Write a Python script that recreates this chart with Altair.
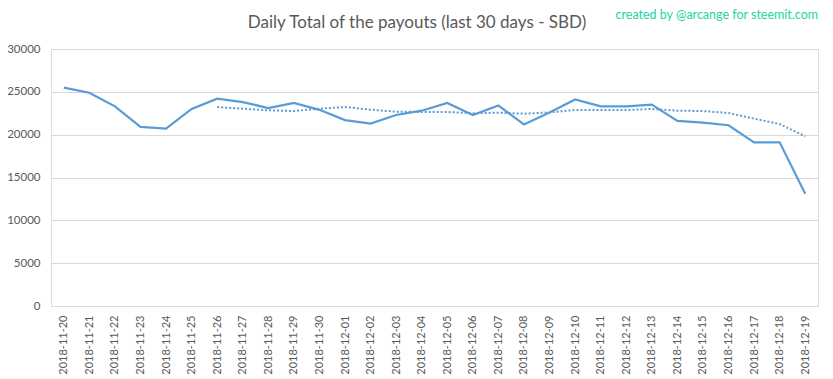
import altair as alt
import pandas as pd

dates = ["2018-11-20", "2018-11-21", "2018-11-22", "2018-11-23", "2018-11-24",
         "2018-11-25", "2018-11-26", "2018-11-27", "2018-11-28", "2018-11-29",
         "2018-11-30", "2018-12-01", "2018-12-02", "2018-12-03", "2018-12-04",
         "2018-12-05", "2018-12-06", "2018-12-07", "2018-12-08", "2018-12-09",
         "2018-12-10", "2018-12-11", "2018-12-12", "2018-12-13", "2018-12-14",
         "2018-12-15", "2018-12-16", "2018-12-17", "2018-12-18", "2018-12-19"]

payouts = [25500, 24900, 23300, 20900, 20700, 23000, 24200, 23800, 23100, 23700,
           22900, 21700, 21300, 22300, 22800, 23700, 22300, 23400, 21200, 22600,
           24100, 23300, 23300, 23500, 21600, 21400, 21100, 19100, 19100, 13100]

avg_dates = dates[6:]
avg_values = [23230, 23030, 22840, 22760, 23030, 23230, 22920, 22680, 22650, 22650,
              22500, 22570, 22450, 22600, 22880, 22880, 22880, 23000, 22800, 22760,
              22530, 21870, 21240, 19800]

y_ticks = [0, 5000, 10000, 15000, 20000, 25000, 30000]

title_text = "Daily Total of the payouts (last 30 days - SBD)"
credit_text = "created by @arcange for steemit.com"

df = pd.DataFrame({"date": dates, "value": payouts})
df_avg = pd.DataFrame({"date": avg_dates, "value": avg_values})

FONT = "Lato"
TEXT = "#595959"
BLUE = "#5B9BD5"

x_enc = alt.X("date:N", sort=dates, title=None,
              scale=alt.Scale(domain=dates, paddingInner=0, paddingOuter=0.5),
              axis=alt.Axis(labelAngle=-90, labelFont=FONT, labelFontSize=11,
                            labelColor=TEXT, ticks=False, domainColor="#D9D9D9",
                            labelPadding=9, grid=False))
y_enc = alt.Y("value:Q", title=None,
              scale=alt.Scale(domain=[0, 30000], nice=False),
              axis=alt.Axis(values=y_ticks, labelFont=FONT, labelFontSize=11.5,
                            labelColor=TEXT, ticks=False, domain=False,
                            gridColor="#D9D9D9", labelPadding=11, format="d"))

line = alt.Chart(df).mark_line(color=BLUE, strokeWidth=2.2).encode(x=x_enc, y=y_enc)
avg = alt.Chart(df_avg).mark_line(color=BLUE, strokeWidth=2, strokeDash=[2, 2]).encode(
    x=alt.X("date:N", sort=dates), y="value:Q")

credit = alt.Chart(pd.DataFrame({"t": [credit_text]})).mark_text(
    align="right", baseline="middle", font=FONT, fontSize=12.5, color="#24D3A5"
).encode(x=alt.value(767), y=alt.value(-34), text="t:N")

title = alt.Chart(pd.DataFrame({"t": [title_text]})).mark_text(
    align="center", baseline="middle", font=FONT, fontSize=17, color=TEXT
).encode(x=alt.value(366), y=alt.value(-26), text="t:N")

chart = alt.layer(line, avg, credit, title).properties(
    width=767, height=257,
    padding={"left": 43, "top": 41, "right": 7, "bottom": 75},
    autosize=alt.AutoSizeParams(type="none"),
).configure_view(stroke=None).configure(background="white")

chart.save("out.html", embed_options={"renderer": "svg", "actions": False})
